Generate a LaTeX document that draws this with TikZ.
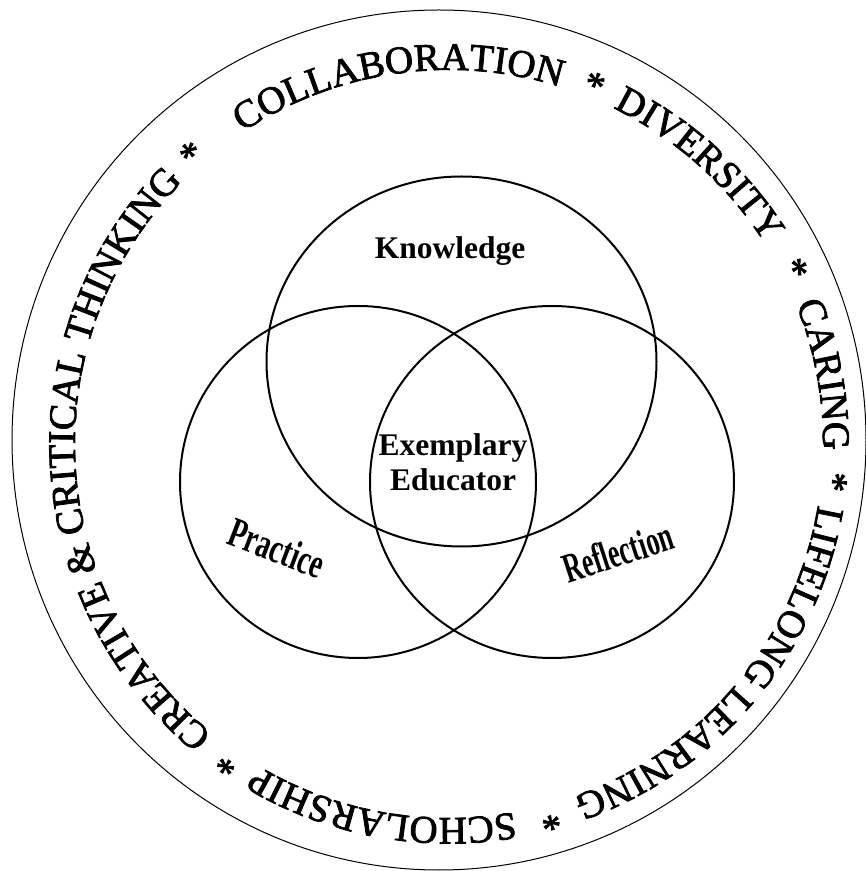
\documentclass[tikz,border=0pt]{standalone}
\usepackage{fontspec}
\setmainfont{Liberation Serif}
\newfontface\ringface{Liberation Serif}[FakeBold=2]
\usetikzlibrary{decorations.text,positioning}

\newcommand\ringfont{\ringface\fontsize{39}{39}\selectfont}

\begin{document}
\begin{tikzpicture}[x=1pt,y=1pt,
    venn/.style={draw,line width=2pt},
    ring word/.style={decorate,decoration={text along path,text align=center,
        text={|\ringfont|#1}}},
    main label/.style={font=\fontsize{31.5}{35}\selectfont\bfseries,align=center,inner sep=0pt},
    slant label/.style={font=\fontsize{42}{42}\selectfont\bfseries,inner sep=0pt}]

    \useasboundingbox (0,0) rectangle (866,871);

    % outer ring
    \coordinate (mid) at (439,431);
    \draw[line width=1pt] (mid) ellipse [x radius=427, y radius=430];

    % words round the ring, each centred on its own angle
    \coordinate (ring) at (449,427);
    \path[ring word=COLLABORATION] (ring) ++(98.1+60:374) arc [start angle=98.1+60, delta angle=-120, radius=374];
    \path[ring word=DIVERSITY] (ring) ++(48.2+60:374) arc [start angle=48.2+60, delta angle=-120, radius=374];
    \path[ring word=CARING] (ring) ++(10.5+60:374) arc [start angle=10.5+60, delta angle=-120, radius=374];
    \path[ring word=LIFELONG LEARNING] (ring) ++(-40+60:374) arc [start angle=-40+60, delta angle=-120, radius=374];
    \path[ring word=SCHOLARSHIP] (ring) ++(-100.4+60:374) arc [start angle=-100.4+60, delta angle=-120, radius=374];
    \path[ring word={CREATIVE {\&} CRITICAL THINKING}] (ring) ++(-176.9+60:374) arc [start angle=-176.9+60, delta angle=-120, radius=374];
    \foreach \a in {68,26.8,-5.6,-74.9,-124.7,131.6}
        \path[ring word=*] (ring) ++(\a+20:374) arc [start angle=\a+20, delta angle=-40, radius=374];

    % three circles
    \coordinate (know) at (461.5,509.5);
    \coordinate (prac) at (358,389);
    \coordinate (refl) at (552,389);
    \draw[venn] (know) ellipse [x radius=195, y radius=185];
    \draw[venn] (prac) ellipse [x radius=178, y radius=176];
    \draw[venn] (refl) ellipse [x radius=182, y radius=176];

    \node[main label] (K) at (450,620) {Knowledge};
    \node[main label] (E) at (453,409) {Exemplary\\Educator};
    \node[slant label,rotate=-21,xscale=0.67] (P) at (277,323) {Practice};
    \node[slant label,rotate=18,xscale=0.62] (R) at (618,319) {Reflection};

\end{tikzpicture}
\end{document}
